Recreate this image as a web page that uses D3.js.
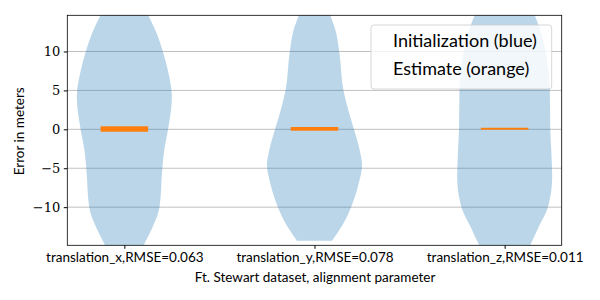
<!DOCTYPE html>
<meta charset="utf-8">
<style>
body { margin: 0; background: #fff; }
.tick-x, .label, .legend { font-family: "Lato", "DejaVu Sans", sans-serif; }
</style>
<body>
<script src="https://d3js.org/d3.v7.min.js"></script>
<script>

// set the dimensions and margins of the graph
var margin = {top: 15.3, right: 38.3, bottom: 54.7, left: 67.3},
    width = 600 - margin.left - margin.right,
    height = 300 - margin.top - margin.bottom;

var parameters = ["translation_x", "translation_y", "translation_z"];
var rmse = ["0.063", "0.078", "0.011"];
var positions = [1, 2, 3];
var yTicks = [-10, -5, 0, 5, 10];

// initialization error: [value in meters, relative density]
var initX = [[-16, 0.32], [-14.87, 0.41], [-12.5, 0.60], [-10, 0.74], [-5, 0.80],
             [-2.66, 0.84], [0, 0.92], [4.2, 1.0], [7.2, 0.93], [10, 0.81],
             [12.76, 0.65], [14.69, 0.50], [16, 0.40]];
var initY = [[-14.3, 0.37], [-12.5, 0.57], [-10, 0.77], [-6.94, 0.93], [-4.6, 1.0],
             [-2.66, 0.95], [0, 0.83], [2.48, 0.71], [5, 0.61], [10, 0.52],
             [12.76, 0.44], [14.69, 0.33], [16, 0.27]];
var initZ = [[-16, 0.45], [-14.87, 0.54], [-12.5, 0.72], [-10, 0.91], [-6.1, 1.0],
             [-2.66, 0.98], [0, 0.96], [5, 0.95], [10, 0.86], [12.76, 0.75],
             [14.69, 0.63], [16, 0.55]];

// estimate error range (meters)
var estLow = [-0.31, -0.18, -0.05];
var estHigh = [0.39, 0.30, 0.20];

var initData = [initX, initY, initZ];

var x = d3.scaleLinear().domain([0.7, 3.3]).range([0, width]);
var y = d3.scaleLinear().domain([-14.9, 14.65]).range([height, 0]);

var violinHalf = 0.25;   // half width in x units
var estHalf = 0.125;

var svg = d3.select("body").append("svg")
    .attr("width", 600)
    .attr("height", 300)
  .append("g")
    .attr("transform", "translate(" + margin.left + "," + margin.top + ")");

svg.append("clipPath").attr("id", "clip")
  .append("rect").attr("width", width).attr("height", height);

// grid
svg.append("g")
    .selectAll("line")
    .data(yTicks)
  .enter().append("line")
    .attr("x1", 0).attr("x2", width)
    .attr("y1", function(d) { return y(d); })
    .attr("y2", function(d) { return y(d); })
    .attr("stroke", "#b0b0b0")
    .attr("stroke-width", 0.8);

var plot = svg.append("g").attr("clip-path", "url(#clip)");

// violins
initData.forEach(function(prof, i) {
  var area = d3.area()
      .curve(d3.curveMonotoneY)
      .y(function(d) { return y(d[0]); })
      .x0(function(d) { return x(positions[i] - violinHalf * d[1]); })
      .x1(function(d) { return x(positions[i] + violinHalf * d[1]); });
  plot.append("path")
      .datum(prof)
      .attr("d", area)
      .attr("fill", "#1f77b4")
      .attr("fill-opacity", 0.3);
});

// estimates
plot.selectAll(".est")
    .data(positions)
  .enter().append("rect")
    .attr("class", "est")
    .attr("x", function(d) { return x(d - estHalf); })
    .attr("width", function(d) { return x(d + estHalf) - x(d - estHalf); })
    .attr("y", function(d, i) { return y(estHigh[i]); })
    .attr("height", function(d, i) { return y(estLow[i]) - y(estHigh[i]); })
    .attr("fill", "#ff7f0e");

// axes
var yAxis = svg.append("g")
    .call(d3.axisLeft(y).tickValues(yTicks).tickSize(3.5).tickPadding(3.5)
      .tickFormat(function(d) { return d < 0 ? "\u2212" + (-d) : d; }));
yAxis.select(".domain").remove();
yAxis.selectAll("text").style("font-family", "'DejaVu Serif', serif").style("font-size", "13px");

var xAxis = svg.append("g")
    .attr("transform", "translate(0," + height + ")")
    .call(d3.axisBottom(x).tickValues(positions).tickSize(3.5).tickPadding(3.5)
      .tickFormat(function(d, i) { return parameters[i] + ",RMSE=" + rmse[i]; }));
xAxis.select(".domain").remove();
xAxis.selectAll("text").style("font-family", "Lato, sans-serif").style("font-size", "13.5px");

// frame
svg.append("rect")
    .attr("width", width).attr("height", height)
    .attr("fill", "none").attr("stroke", "#000").attr("stroke-width", 0.8);

// labels
svg.append("text")
    .attr("class", "label")
    .attr("x", width / 2 + 0.5)
    .attr("y", height + 36.3)
    .attr("text-anchor", "middle")
    .style("font-size", "13.5px")
    .text("Ft. Stewart dataset, alignment parameter");

svg.append("text")
    .attr("class", "label")
    .attr("transform", "translate(" + (-43) + "," + (height / 2 + 1) + ") rotate(-90)")
    .attr("text-anchor", "middle")
    .style("font-size", "13.5px")
    .text("Error in meters");

// legend
var legend = svg.append("g").attr("transform", "translate(" + (371 - margin.left) + "," + (25 - margin.top) + ")");
legend.append("rect")
    .attr("width", 180.7).attr("height", 64)
    .attr("rx", 3)
    .attr("fill", "#fff").attr("fill-opacity", 0.8)
    .attr("stroke", "#cccccc").attr("stroke-width", 0.8);
legend.selectAll("text")
    .data(["Initialization (blue)", "Estimate (orange)"])
  .enter().append("text")
    .attr("class", "legend")
    .attr("x", 22)
    .attr("y", function(d, i) { return 21.7 + i * 28.3; })
    .style("font-size", "18px")
    .text(function(d) { return d; });

</script>
</body>
